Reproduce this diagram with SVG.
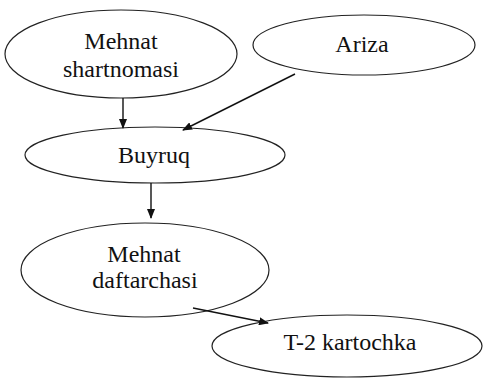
<svg xmlns="http://www.w3.org/2000/svg" width="483" height="378" viewBox="0 0 483 378">
<style>
.n{fill:#fff;stroke:#222;stroke-width:1.2}
.t{font-family:'Liberation Serif','DejaVu Serif',serif;font-size:24px;fill:#111;text-anchor:middle}
.c{stroke:#111;stroke-width:1.4;fill:none;marker-end:url(#ah)}
</style>
<defs>
<marker id="ah" markerWidth="10" markerHeight="8" refX="9" refY="4" orient="auto" markerUnits="userSpaceOnUse">
<path d="M0,0 L10,4 L0,8 Z" fill="#111"/>
</marker>
</defs>
<rect width="483" height="378" fill="#fff"/>
<g id="n1"><ellipse class="n" cx="121" cy="54" rx="116" ry="44"/><text class="t" x="121" y="49">Mehnat</text><text class="t" x="121" y="77">shartnomasi</text></g>
<g id="n2"><ellipse class="n" cx="364" cy="45" rx="111" ry="30"/><text class="t" x="362" y="52">Ariza</text></g>
<g id="n3"><ellipse class="n" cx="155" cy="155" rx="130" ry="28"/><text class="t" x="154" y="163">Buyruq</text></g>
<g id="n4"><ellipse class="n" cx="145" cy="270" rx="124" ry="47"/><text class="t" x="144" y="262">Mehnat</text><text class="t" x="145" y="288">daftarchasi</text></g>
<g id="n5"><ellipse class="n" cx="347" cy="346" rx="135" ry="31"/><text class="t" x="350" y="350">T-2 kartochka</text></g>
<g id="connectors">
<line class="c" x1="123" y1="98" x2="123" y2="128"/>
<line class="c" x1="295" y1="74" x2="183" y2="130"/>
<line class="c" x1="151" y1="183" x2="151" y2="218"/>
<line class="c" x1="193" y1="308" x2="268" y2="323"/>
</g>
</svg>
